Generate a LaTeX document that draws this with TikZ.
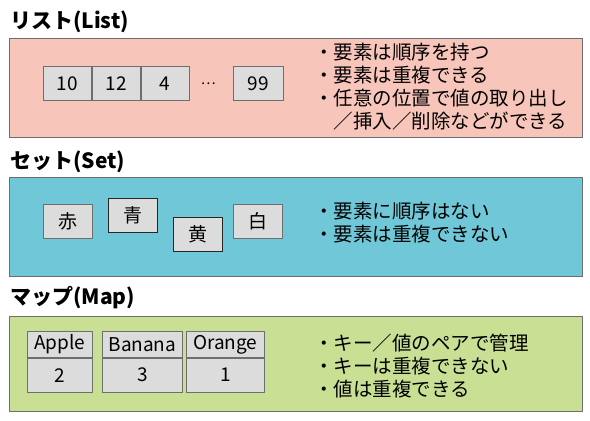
\documentclass[tikz,border=0pt]{standalone}
\usepackage{fontspec}
\setmainfont{Noto Sans CJK JP}
\usepackage{tikz}
\usetikzlibrary{positioning}
\definecolor{listpink}{HTML}{F8C5BA}
\definecolor{setblue}{HTML}{6FC7D8}
\definecolor{mapgreen}{HTML}{C8DF94}
\definecolor{cellgray}{HTML}{DCDCDC}
\definecolor{edge}{HTML}{6E6E6E}

\begin{document}
\begin{tikzpicture}[x=1pt, y=-1pt,
    title/.style={anchor=base west, inner sep=0pt, font=\fontsize{21}{24}\selectfont\bfseries},
    panel/.style={draw=edge, line width=0.8pt, anchor=north west, minimum width=573pt, minimum height=99pt, inner sep=0pt},
    cell/.style={draw=edge, fill=cellgray, line width=0.8pt, minimum width=48pt, minimum height=34pt, inner sep=0pt, font=\fontsize{19}{20}\selectfont},
    notes/.style={anchor=north west, align=left, inner sep=0pt, font=\fontsize{19.5}{23}\selectfont}
]
    \useasboundingbox (0,0) rectangle (590,421);

    % list
    \node[title] (listtitle) at (10,28) {リスト(List)};
    \node[panel, fill=listpink] (listpanel) at (9,38) {};
    \node[cell, anchor=north west] (n10) at (43,66) {10};
    \node[cell, right=0pt of n10] (n12) {12};
    \node[cell, right=0pt of n12] (n4) {4};
    \node[right=8pt of n4, font=\fontsize{14}{16}\selectfont] (dots) {…};
    \node[cell, minimum width=50pt, anchor=north west] (n99) at (233,66) {99};
    \node[notes] (listnotes) at (314,43) {・要素は順序を持つ\\・要素は重複できる\\・任意の位置で値の取り出し\\　／挿入／削除などができる};

    % set
    \node[title] (settitle) at (10,168) {セット(Set)};
    \node[panel, fill=setblue] (setpanel) at (9,177) {};
    \node[cell, minimum width=49pt] (red) at (67.5,221.5) {赤};
    \node[cell, minimum width=49pt, draw=black!85] (blue) at (132.5,215.5) {青};
    \node[cell, minimum width=49pt, draw=black!85] (yellow) at (197.5,234) {黄};
    \node[cell, minimum width=49pt] (white) at (258,221.5) {白};
    \node[notes] (setnotes) at (314,202) {・要素に順序はない\\・要素は重複できない};

    % map
    \node[title] (maptitle) at (10,304) {マップ(Map)};
    \node[panel, fill=mapgreen, minimum height=95pt] (mappanel) at (9,316) {};
    \node[cell, minimum width=65pt, minimum height=26pt, anchor=north west] (apple) at (27,331) {Apple};
    \node[cell, minimum width=65pt, below=0pt of apple] (two) {2};
    \node[cell, minimum width=80pt, minimum height=26pt, anchor=north west] (banana) at (102,331) {Banana};
    \node[cell, minimum width=80pt, below=0pt of banana] (three) {3};
    \node[cell, minimum width=78pt, minimum height=26pt, anchor=north west] (orange) at (186,331) {Orange};
    \node[cell, minimum width=78pt, below=0pt of orange] (one) {1};
    \node[notes] (mapnotes) at (314,334) {・キー／値のペアで管理\\・キーは重複できない\\・値は重複できる};
\end{tikzpicture}
\end{document}
